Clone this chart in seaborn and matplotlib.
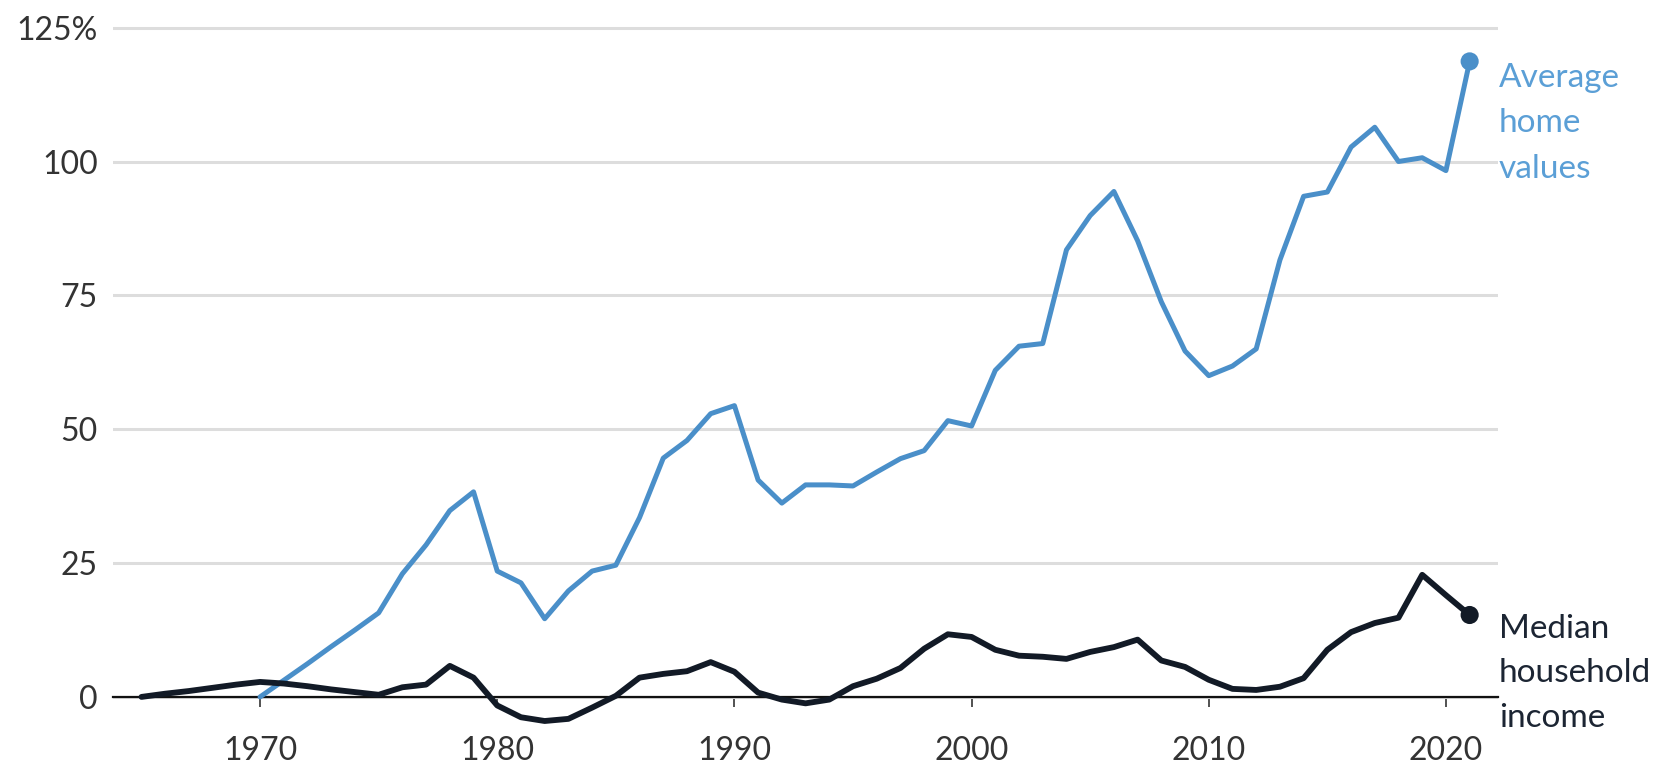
import pandas as pd
import seaborn as sns
import matplotlib.pyplot as plt

# % change, home values from 1970, household income from 1965
income_years = list(range(1965, 2022))
income = [0, 0.6, 1.1, 1.7, 2.3, 2.8, 2.5, 2.0, 1.4, 0.9,
          0.4, 1.8, 2.3, 5.8, 3.6, -1.6, -3.8, -4.5, -4.1, -2.0,
          0.2, 3.6, 4.3, 4.8, 6.5, 4.7, 0.8, -0.5, -1.2, -0.5,
          2.0, 3.4, 5.4, 9.0, 11.7, 11.2, 8.8, 7.7, 7.5, 7.1,
          8.4, 9.3, 10.7, 6.8, 5.6, 3.2, 1.5, 1.3, 1.9, 3.5,
          8.8, 12.1, 13.8, 14.8, 22.8, 19.0, 15.3]

home_years = list(range(1970, 2022))
home = [0, 3.1, 6.2, 9.4, 12.5, 15.7, 23.0, 28.4, 34.8, 38.3,
        23.5, 21.3, 14.6, 19.8, 23.5, 24.6, 33.5, 44.6, 47.9, 52.9,
        54.4, 40.5, 36.2, 39.6, 39.6, 39.4, 42.0, 44.5, 46.0, 51.6,
        50.6, 61.0, 65.5, 66.0, 83.5, 89.9, 94.4, 85.2, 73.8, 64.6,
        60.0, 61.8, 65.0, 81.6, 93.5, 94.3, 102.7, 106.4, 100.0, 100.7,
        98.3, 118.7]

y_ticks = [0, 25, 50, 75, 100, 125]
y_labels = ['0', '25', '50', '75', '100', '125%']
x_ticks = [1970, 1980, 1990, 2000, 2010, 2020]

home_color = '#4a8fc9'
home_text = '#5b9fd6'
income_color = '#121a26'

sns.set_theme(style='white')
plt.rcParams['font.family'] = ['Lato', 'DejaVu Sans']

df_home = pd.DataFrame({'year': home_years, 'pct': home})
df_inc = pd.DataFrame({'year': income_years, 'pct': income})

fig = plt.figure(figsize=(16.72, 7.70), dpi=100)
ax = fig.add_axes([0.0676, 0.0532, 0.8284, 0.9248])

sns.lineplot(data=df_home, x='year', y='pct', color=home_color, lw=3.6, ax=ax, zorder=3)
sns.lineplot(data=df_inc, x='year', y='pct', color=income_color, lw=4.2, ax=ax, zorder=4)
sns.scatterplot(x=[home_years[-1]], y=[home[-1]], color=home_color, s=170,
                edgecolor='none', ax=ax, zorder=5)
sns.scatterplot(x=[income_years[-1]], y=[income[-1]], color=income_color, s=170,
                edgecolor='none', ax=ax, zorder=5)

ax.set_xlim(1963.8, 2022.2)
ax.set_ylim(-6, 127)
ax.set_yticks(y_ticks)
ax.set_yticklabels(y_labels)
ax.set_xticks(x_ticks)
ax.set_xlabel('')
ax.set_ylabel('')

ax.grid(axis='y', color='#dddddd', lw=2.2)
ax.grid(axis='x', visible=False)
for s in ['top', 'right', 'left']:
    ax.spines[s].set_visible(False)
ax.spines['bottom'].set_position(('data', 0))
ax.spines['bottom'].set_color('#111111')
ax.spines['bottom'].set_linewidth(1.6)
ax.spines['bottom'].set_zorder(2)

ax.tick_params(axis='y', length=0, pad=11, labelsize=23, labelcolor='#333333')
ax.tick_params(axis='x', direction='out', length=7, width=1.2, color='#333333',
               pad=21, labelsize=23, labelcolor='#333333', bottom=True)

ax.annotate('Average\nhome\nvalues', xy=(home_years[-1], home[-1]),
            xytext=(21, -1), textcoords='offset points', va='top', ha='left',
            fontsize=24, color=home_text, linespacing=1.65, annotation_clip=False)
ax.annotate('Median\nhousehold\nincome', xy=(income_years[-1], income[-1]),
            xytext=(21, 1), textcoords='offset points', va='top', ha='left',
            fontsize=24, color='#1c2533', linespacing=1.62, annotation_clip=False)

fig.savefig('out.png', dpi=100)
